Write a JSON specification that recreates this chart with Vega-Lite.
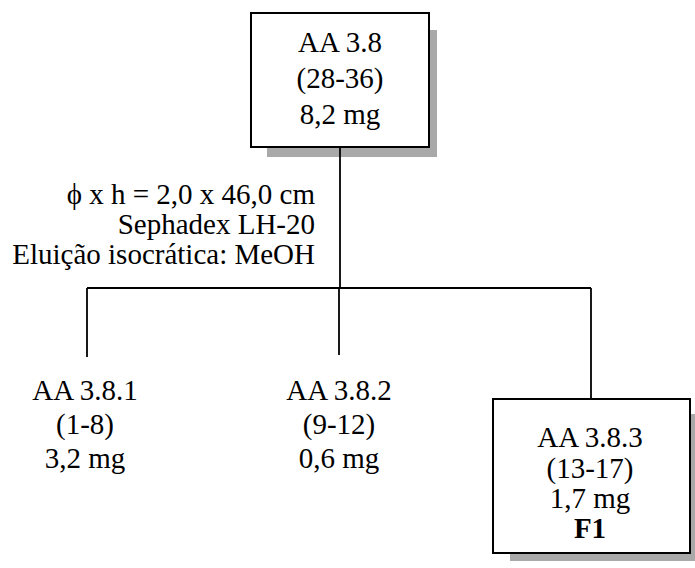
{
  "$schema": "https://vega.github.io/schema/vega-lite/v6.json",
  "width": 695,
  "height": 568,
  "autosize": {"type": "fit", "contains": "padding"},
  "padding": 0,
  "background": "white",
  "config": {"view": {"stroke": null}, "font": "Liberation Serif"},
  "datasets": {
    "shadows": [
      {"x": 267, "x2": 437, "y": 30, "y2": 157},
      {"x": 510, "x2": 695, "y": 414, "y2": 561}
    ],
    "boxes": [
      {"x": 251, "x2": 429, "y": 13, "y2": 147},
      {"x": 493, "x2": 690, "y": 399, "y2": 553}
    ],
    "links": [
      {"x": 340, "x2": 340, "y": 147, "y2": 288},
      {"x": 87, "x2": 591, "y": 288, "y2": 288},
      {"x": 87, "x2": 87, "y": 288, "y2": 357},
      {"x": 339, "x2": 339, "y": 288, "y2": 355},
      {"x": 591, "x2": 591, "y": 288, "y2": 399}
    ],
    "labels": [
      {"x": 340, "y": 52, "label": "AA 3.8", "kind": "center"},
      {"x": 340, "y": 88, "label": "(28-36)", "kind": "center"},
      {"x": 340, "y": 124, "label": "8,2 mg", "kind": "center"},
      {"x": 85, "y": 400, "label": "AA 3.8.1", "kind": "center"},
      {"x": 85, "y": 434, "label": "(1-8)", "kind": "center"},
      {"x": 85, "y": 468, "label": "3,2 mg", "kind": "center"},
      {"x": 339, "y": 400, "label": "AA 3.8.2", "kind": "center"},
      {"x": 339, "y": 434, "label": "(9-12)", "kind": "center"},
      {"x": 339, "y": 468, "label": "0,6 mg", "kind": "center"},
      {"x": 590, "y": 447, "label": "AA 3.8.3", "kind": "center"},
      {"x": 590, "y": 478, "label": "(13-17)", "kind": "center"},
      {"x": 590, "y": 508, "label": "1,7 mg", "kind": "center"},
      {"x": 590, "y": 538, "label": "F1", "kind": "bold"},
      {"x": 315, "y": 204, "label": "ϕ x h = 2,0 x 46,0 cm", "kind": "right"},
      {"x": 315, "y": 234, "label": "Sephadex LH-20", "kind": "right"},
      {"x": 315, "y": 264, "label": "Eluição isocrática: MeOH", "kind": "right"}
    ]
  },
  "layer": [
    {
      "data": {"name": "shadows"},
      "mark": {"type": "rect", "fill": "#a9a9a9"},
      "encoding": {
        "x": {"field": "x", "type": "quantitative", "scale": {"domain": [0, 695], "nice": false, "zero": false}, "axis": null},
        "x2": {"field": "x2"},
        "y": {"field": "y", "type": "quantitative", "scale": {"domain": [0, 568], "nice": false, "zero": false, "reverse": true}, "axis": null},
        "y2": {"field": "y2"}
      }
    },
    {
      "data": {"name": "boxes"},
      "mark": {"type": "rect", "fill": "white", "stroke": "black", "strokeWidth": 2},
      "encoding": {
        "x": {"field": "x", "type": "quantitative", "axis": null},
        "x2": {"field": "x2"},
        "y": {"field": "y", "type": "quantitative", "axis": null},
        "y2": {"field": "y2"}
      }
    },
    {
      "data": {"name": "links"},
      "mark": {"type": "rule", "color": "black", "strokeWidth": 1.8},
      "encoding": {
        "x": {"field": "x", "type": "quantitative", "axis": null},
        "x2": {"field": "x2"},
        "y": {"field": "y", "type": "quantitative", "axis": null},
        "y2": {"field": "y2"}
      }
    },
    {
      "data": {"name": "labels"},
      "transform": [{"filter": "datum.kind === 'center'"}],
      "mark": {"type": "text", "font": "Liberation Serif", "fontSize": 29, "align": "center", "baseline": "alphabetic", "color": "black"},
      "encoding": {
        "x": {"field": "x", "type": "quantitative", "axis": null},
        "y": {"field": "y", "type": "quantitative", "axis": null},
        "text": {"field": "label"}
      }
    },
    {
      "data": {"name": "labels"},
      "transform": [{"filter": "datum.kind === 'bold'"}],
      "mark": {"type": "text", "font": "Liberation Serif", "fontSize": 29, "fontWeight": "bold", "align": "center", "baseline": "alphabetic", "color": "black"},
      "encoding": {
        "x": {"field": "x", "type": "quantitative", "axis": null},
        "y": {"field": "y", "type": "quantitative", "axis": null},
        "text": {"field": "label"}
      }
    },
    {
      "data": {"name": "labels"},
      "transform": [{"filter": "datum.kind === 'right'"}],
      "mark": {"type": "text", "font": "Liberation Serif", "fontSize": 29, "align": "right", "baseline": "alphabetic", "color": "black"},
      "encoding": {
        "x": {"field": "x", "type": "quantitative", "axis": null},
        "y": {"field": "y", "type": "quantitative", "axis": null},
        "text": {"field": "label"}
      }
    }
  ]
}
